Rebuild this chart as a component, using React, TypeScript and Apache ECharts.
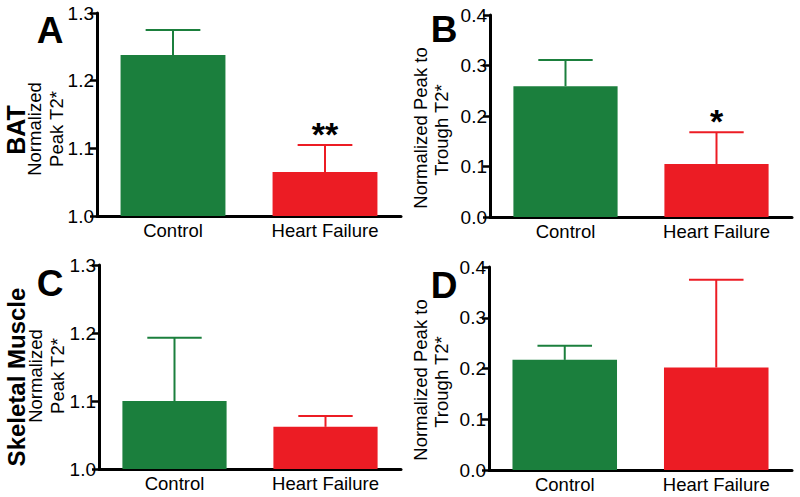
import React, { useEffect, useRef } from "react";
import * as echarts from "echarts";

const categories = ["Control", "Heart Failure"];
const barColors = ["#1B7F3D", "#EC1C24"];

// Panel A: BAT normalized peak T2*
const batPeakMean = [1.238, 1.065];
const batPeakSem = [0.037, 0.04];
const batPeakSig = ["", "**"];
// Panel B: BAT normalized peak to trough T2*
const batTroughMean = [0.259, 0.105];
const batTroughSem = [0.052, 0.063];
const batTroughSig = ["", "*"];
// Panel C: skeletal muscle normalized peak T2*
const skmPeakMean = [1.1, 1.062];
const skmPeakSem = [0.093, 0.016];
const skmPeakSig = ["", ""];
// Panel D: skeletal muscle normalized peak to trough T2*
const skmTroughMean = [0.217, 0.202];
const skmTroughSem = [0.028, 0.173];
const skmTroughSig = ["", ""];

const peakTicks = { min: 1.0, max: 1.3, interval: 0.1 };
const troughTicks = { min: 0.0, max: 0.4, interval: 0.1 };

const FONT = "'Liberation Sans', Arial, Helvetica, sans-serif";

export default function App() {
  const ref = useRef<HTMLDivElement>(null);

  useEffect(() => {
    if (!ref.current) return;
    const chart = echarts.init(ref.current, null, { renderer: "svg" });

    const grids = [
      { left: 97, top: 13, width: 304, height: 203 },
      { left: 490, top: 15, width: 302, height: 202 },
      { left: 99, top: 265, width: 302, height: 204 },
      { left: 489, top: 267, width: 303, height: 203 },
    ];
    const panels = [
      { mean: batPeakMean, sem: batPeakSem, sig: batPeakSig, ticks: peakTicks },
      { mean: batTroughMean, sem: batTroughSem, sig: batTroughSig, ticks: troughTicks },
      { mean: skmPeakMean, sem: skmPeakSem, sig: skmPeakSig, ticks: peakTicks },
      { mean: skmTroughMean, sem: skmTroughSem, sig: skmTroughSig, ticks: troughTicks },
    ];

    const xAxis = grids.map((_, i) => ({
      type: "category",
      gridIndex: i,
      data: categories,
      axisLine: { show: true, lineStyle: { color: "#000", width: 3 } },
      axisTick: { show: false },
      axisLabel: { color: "#000", fontSize: 18.5, fontFamily: FONT, margin: 5 },
      splitLine: { show: false },
    }));

    const yAxis = panels.map((p, i) => ({
      type: "value",
      gridIndex: i,
      min: p.ticks.min,
      max: p.ticks.max,
      interval: p.ticks.interval,
      axisLine: { show: true, lineStyle: { color: "#000", width: 3 } },
      axisTick: { show: true, length: 7, lineStyle: { color: "#000", width: 2.5 } },
      axisLabel: {
        color: "#000",
        fontSize: 19,
        fontFamily: FONT,
        margin: 3,
        formatter: (v: number) => v.toFixed(1),
      },
      splitLine: { show: false },
    }));

    const series: any[] = [];
    panels.forEach((p, i) => {
      series.push({
        type: "bar",
        xAxisIndex: i,
        yAxisIndex: i,
        barWidth: "69%",
        data: p.mean.map((v, k) => ({ value: v, itemStyle: { color: barColors[k] } })),
      });
      series.push({
        type: "custom",
        xAxisIndex: i,
        yAxisIndex: i,
        data: p.mean.map((v, k) => [k, v, p.sem[k]]),
        renderItem: (params: any, api: any) => {
          const idx = api.value(0);
          const mean = api.value(1);
          const err = api.value(2);
          const base = api.coord([idx, mean]);
          const top = api.coord([idx, mean + err]);
          const band = api.size([1, 0])[0];
          const half = band * 0.18;
          const color = barColors[params.dataIndex];
          const children: any[] = [
            {
              type: "line",
              shape: { x1: base[0], y1: base[1], x2: top[0], y2: top[1] },
              style: { stroke: color, lineWidth: 2 },
            },
            {
              type: "line",
              shape: { x1: top[0] - half, y1: top[1], x2: top[0] + half, y2: top[1] },
              style: { stroke: color, lineWidth: 2 },
            },
          ];
          const s = p.sig[params.dataIndex];
          if (s) {
            children.push({
              type: "text",
              x: top[0],
              y: top[1] - 11,
              style: {
                text: s,
                fill: "#000",
                font: `bold 34px ${FONT}`,
                align: "center",
                verticalAlign: "middle",
              },
            });
          }
          return { type: "group", children };
        },
      });
    });

    const txt = (text: string, x: number, y: number, size: number, bold: boolean, rotate: boolean) => ({
      type: "text",
      x,
      y,
      rotation: rotate ? Math.PI / 2 : 0,
      style: {
        text,
        fill: "#000",
        font: `${bold ? "bold " : ""}${size}px ${FONT}`,
        align: "center",
        verticalAlign: "middle",
      },
    });

    const graphic = [
      txt("A", 50, 30, 37, true, false),
      txt("B", 444, 29, 37, true, false),
      txt("C", 50, 283, 37, true, false),
      txt("D", 444, 285, 37, true, false),
      txt("BAT", 16, 130, 25, true, true),
      txt("Normalized", 34, 129, 18.5, false, true),
      txt("Peak T2*", 56, 129, 18.5, false, true),
      txt("Skeletal Muscle", 16, 377, 24, true, true),
      txt("Normalized", 35, 376, 18.5, false, true),
      txt("Peak T2*", 57, 376, 18.5, false, true),
      txt("Normalized Peak to", 420, 128, 18.5, false, true),
      txt("Trough T2*", 441, 130, 18.5, false, true),
      txt("Normalized Peak to", 420, 380, 18.5, false, true),
      txt("Trough T2*", 441, 382, 18.5, false, true),
    ];

    chart.setOption({
      animation: false,
      backgroundColor: "#fff",
      grid: grids.map((g) => ({ ...g, containLabel: false })),
      xAxis,
      yAxis,
      series,
      graphic,
    });

    return () => chart.dispose();
  }, []);

  return (
    <div
      ref={ref}
      style={{ position: "fixed", left: 0, top: 0, width: 800, height: 497, background: "#fff" }}
    />
  );
}
